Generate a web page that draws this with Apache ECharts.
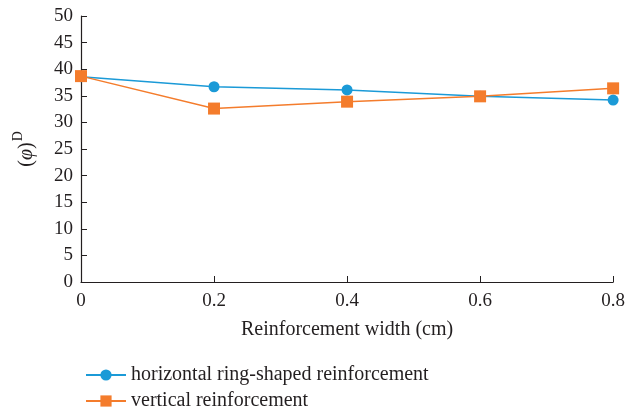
<!DOCTYPE html>
<html><head><meta charset="utf-8">
<script src="https://cdn.jsdelivr.net/npm/echarts@6/dist/echarts.min.js"></script>
<style>html,body{margin:0;padding:0;background:#fff}#c{width:628px;height:413px}</style>
</head><body><div id="c"></div>
<script>
const categories = [0, 0.2, 0.4, 0.6, 0.8];
const xTickLabels = ['0', '0.2', '0.4', '0.6', '0.8'];
const horizontalRing = [38.6, 36.7, 36.1, 34.9, 34.2];
const vertical = [38.7, 32.6, 33.9, 34.9, 36.4];
const seriesNames = ['horizontal ring-shaped reinforcement', 'vertical reinforcement'];

const font = '"Liberation Serif", "Times New Roman", "DejaVu Serif", serif';
const txt = '#231f20';
const legendCommon = {
  orient: 'vertical', left: 80, itemWidth: 40, itemHeight: 14, itemGap: 6,
  textStyle: { fontFamily: font, fontSize: 20, color: txt }
};
const chart = echarts.init(document.getElementById('c'));
chart.setOption({
  animation: false,
  backgroundColor: '#fff',
  grid: { left: 81, right: 11, top: 16, bottom: 131 },
  legend: [
    Object.assign({}, legendCommon, { top: 360, data: [seriesNames[0]] }),
    Object.assign({}, legendCommon, { top: 386, data: [seriesNames[1]] })
  ],
  xAxis: {
    type: 'value', min: 0, max: 0.8, interval: 0.2,
    name: 'Reinforcement width (cm)', nameLocation: 'middle', nameGap: 38,
    nameTextStyle: { fontFamily: font, fontSize: 20, color: txt },
    axisLine: { lineStyle: { color: txt, width: 1.2 } },
    axisTick: { inside: true, length: 6, lineStyle: { color: txt } },
    axisLabel: { fontFamily: font, fontSize: 19, color: txt, margin: 10,
      formatter: v => xTickLabels[Math.round(v / 0.2)] },
    splitLine: { show: false }
  },
  yAxis: {
    type: 'value', min: 0, max: 50, interval: 5,
    name: '{a|(}{i|φ}{a|)}{b|D}', nameLocation: 'middle', nameGap: 44, nameRotate: 90,
    nameTextStyle: {
      rich: {
        a: { fontFamily: font, fontSize: 20, color: txt, lineHeight: 26, verticalAlign: 'bottom' },
        i: { fontFamily: font, fontSize: 20, color: txt, fontStyle: 'italic', lineHeight: 26, verticalAlign: 'bottom' },
        b: { fontFamily: font, fontSize: 14, color: txt, lineHeight: 26, verticalAlign: 'top', padding: [0, 0, 0, 1] }
      }
    },
    axisLine: { show: true, lineStyle: { color: txt, width: 1.2 } },
    axisTick: { show: true, inside: true, length: 6, lineStyle: { color: txt } },
    axisLabel: { fontFamily: font, fontSize: 19, color: txt, margin: 8 },
    splitLine: { show: false }
  },
  series: [
    {
      name: seriesNames[0], type: 'line',
      data: categories.map((x, i) => [x, horizontalRing[i]]),
      symbol: 'circle', symbolSize: 11,
      itemStyle: { color: '#1b9ad7' },
      lineStyle: { color: '#1b9ad7', width: 1.5 }
    },
    {
      name: seriesNames[1], type: 'line',
      data: categories.map((x, i) => [x, vertical[i]]),
      symbol: 'rect', symbolSize: 12,
      itemStyle: { color: '#f47c2c' },
      lineStyle: { color: '#f47c2c', width: 1.5 }
    }
  ]
});
</script></body></html>
